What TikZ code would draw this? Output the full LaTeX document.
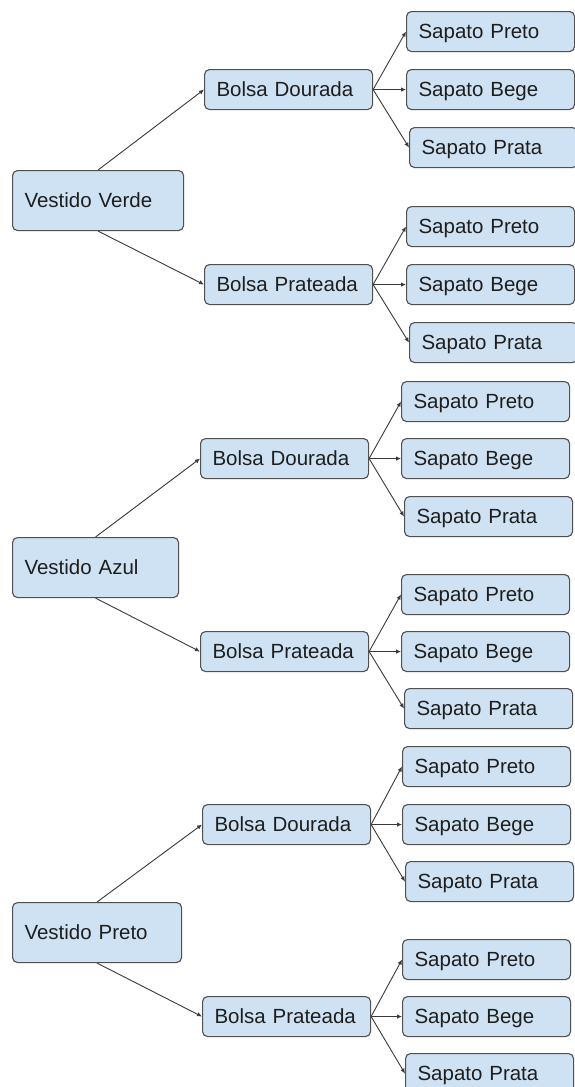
\documentclass[tikz,border=0pt]{standalone}
\usepackage{fontspec}
\setmainfont{Liberation Sans}
\usetikzlibrary{arrows.meta}
\definecolor{boxfill}{HTML}{CFE2F3}
\definecolor{boxline}{HTML}{505050}
\definecolor{arrowcol}{HTML}{3A3A3A}
\definecolor{txtcol}{HTML}{1E1E1E}
\begin{document}
\begin{tikzpicture}[x=1pt,y=1pt,
  caixa/.style={draw=boxline, fill=boxfill, rounded corners=5pt, line width=1.1pt,
    font=\fontsize{20.5pt}{24pt}\selectfont, text=txtcol,
    text height=14.7pt, text depth=0pt, inner xsep=12pt, inner ysep=0pt,
    anchor=north west, align=left, minimum height=40pt, text width=144pt},
  vestido/.style={caixa, minimum height=60pt},
  seta/.style={draw=arrowcol, line width=0.9pt, -{Latex[length=5pt,width=4.5pt]}}]
\useasboundingbox (0,0) rectangle (574,-1087);
\fill[white] (0,0) rectangle (574,-1087);

% ---------- Grupo 1: Vestido Verde ----------
\node[vestido, text width=147pt] (v1) at (12,-170) {Vestido Verde};
\node[caixa] (b1d) at (204,-69) {Bolsa Dourada};
\node[caixa] (b1p) at (204,-264) {Bolsa Prateada};
\node[caixa] (s1a) at (406,-11) {Sapato Preto};
\node[caixa] (s1b) at (406,-69) {Sapato Bege};
\node[caixa] (s1c) at (409,-127) {Sapato Prata};
\node[caixa] (s1d) at (406,-206) {Sapato Preto};
\node[caixa] (s1e) at (406,-264) {Sapato Bege};
\node[caixa] (s1f) at (409,-322) {Sapato Prata};

\draw[seta] (v1.north) -- (b1d.west);
\draw[seta] (v1.south) -- (b1p.west);
\draw[seta] (b1d.east) -- (s1a.west);
\draw[seta] (b1d.east) -- (s1b.west);
\draw[seta] (b1d.east) -- (s1c.west);
\draw[seta] (b1p.east) -- (s1d.west);
\draw[seta] (b1p.east) -- (s1e.west);
\draw[seta] (b1p.east) -- (s1f.west);

% ---------- Grupo 2: Vestido Azul ----------
\node[vestido, text width=142pt] (v2) at (12,-537) {Vestido Azul};
\node[caixa] (b2d) at (200,-438) {Bolsa Dourada};
\node[caixa] (b2p) at (200,-631) {Bolsa Prateada};
\node[caixa] (s2a) at (401,-381) {Sapato Preto};
\node[caixa] (s2b) at (401,-438) {Sapato Bege};
\node[caixa] (s2c) at (404,-496) {Sapato Prata};
\node[caixa] (s2d) at (401,-574) {Sapato Preto};
\node[caixa] (s2e) at (401,-631) {Sapato Bege};
\node[caixa] (s2f) at (404,-688) {Sapato Prata};

\draw[seta] (v2.north) -- (b2d.west);
\draw[seta] (v2.south) -- (b2p.west);
\draw[seta] (b2d.east) -- (s2a.west);
\draw[seta] (b2d.east) -- (s2b.west);
\draw[seta] (b2d.east) -- (s2c.west);
\draw[seta] (b2p.east) -- (s2d.west);
\draw[seta] (b2p.east) -- (s2e.west);
\draw[seta] (b2p.east) -- (s2f.west);

% ---------- Grupo 3: Vestido Preto ----------
\node[vestido, text width=145pt] (v3) at (12,-902) {Vestido Preto};
\node[caixa] (b3d) at (202,-804) {Bolsa Dourada};
\node[caixa] (b3p) at (202,-996) {Bolsa Prateada};
\node[caixa] (s3a) at (402,-746) {Sapato Preto};
\node[caixa] (s3b) at (402,-804) {Sapato Bege};
\node[caixa] (s3c) at (405,-861) {Sapato Prata};
\node[caixa] (s3d) at (402,-939) {Sapato Preto};
\node[caixa] (s3e) at (402,-996) {Sapato Bege};
\node[caixa] (s3f) at (405,-1053) {Sapato Prata};

\draw[seta] (v3.north) -- (b3d.west);
\draw[seta] (v3.south) -- (b3p.west);
\draw[seta] (b3d.east) -- (s3a.west);
\draw[seta] (b3d.east) -- (s3b.west);
\draw[seta] (b3d.east) -- (s3c.west);
\draw[seta] (b3p.east) -- (s3d.west);
\draw[seta] (b3p.east) -- (s3e.west);
\draw[seta] (b3p.east) -- (s3f.west);
\end{tikzpicture}
\end{document}
